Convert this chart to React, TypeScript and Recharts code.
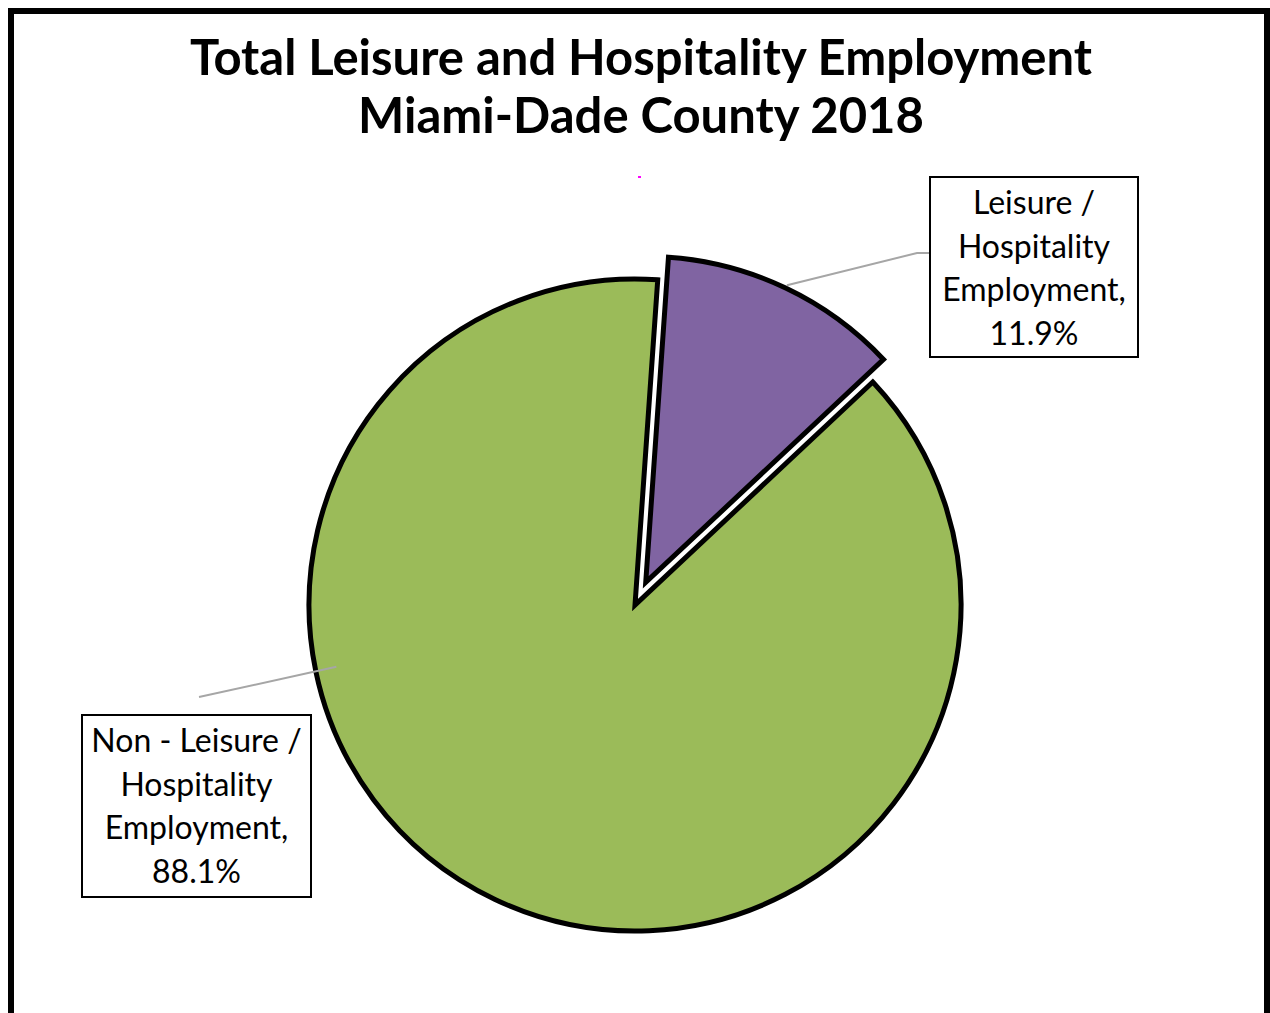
import { PieChart, Pie, Cell } from 'recharts';

const categories = ['Leisure / Hospitality Employment', 'Non - Leisure / Hospitality Employment'];
const shares = [11.9, 88.1];
const labelLines = [
  ['Leisure /', 'Hospitality', 'Employment,'],
  ['Non - Leisure /', 'Hospitality', 'Employment,'],
];
const colors = ['#8064A2', '#9BBB59'];
const titleLines = ['Total Leisure and Hospitality Employment', 'Miami-Dade County 2018'];

const data = categories.map((name, i) => ({ name, value: shares[i] }));

const W = 1270;
const H = 1013;
const CX = 635;
const CY = 605;
const R = 326;
const START = 86;
const EXPLODE = 25;
const FONT = 'Lato, "Open Sans", sans-serif';

const total = shares.reduce((a, b) => a + b, 0);
const midFirst = START - ((shares[0] / total) * 360) / 2;
const rad = Math.PI / 180;
const offX = EXPLODE * Math.cos(midFirst * rad);
const offY = -EXPLODE * Math.sin(midFirst * rad);

// label boxes, positions relative to the pie centre
const labelLayout = [
  { angle: null as number | null, rOff: 3, path: [[282, -352], [295, -352]], box: [295, -428, 208, 180] },
  { angle: 191.7, rOff: -21, path: [[-436, 92]], box: [-553, 110, 229, 182] },
];

function makeLabel(only: number) {
  return (props: any) => {
    const { index, cx, cy, midAngle, outerRadius, value } = props;
    if (index !== only) return null;
    const lay = labelLayout[index];
    const a = (lay.angle ?? midAngle) * rad;
    const r = outerRadius + lay.rOff;
    const ax = cx + r * Math.cos(a);
    const ay = cy - r * Math.sin(a);
    const pts = [[ax, ay], ...lay.path.map(([dx, dy]) => [CX + dx, CY + dy])];
    const [bx, by, bw, bh] = lay.box;
    const x0 = CX + bx;
    const y0 = CY + by;
    const lines = [...labelLines[index], `${value.toFixed(1)}%`];
    return (
      <g>
        <polyline
          points={pts.map((p) => p.join(',')).join(' ')}
          fill="none"
          stroke="#A6A6A6"
          strokeWidth={2}
        />
        <rect x={x0} y={y0} width={bw} height={bh} fill="#fff" stroke="#000" strokeWidth={2} />
        {lines.map((t, i) => (
          <text
            key={i}
            x={x0 + bw / 2}
            y={y0 + 37 + i * 43.5}
            textAnchor="middle"
            fontFamily={FONT}
            fontSize={32}
            fill="#000"
          >
            {t}
          </text>
        ))}
      </g>
    );
  };
}

export default function App() {
  return (
    <div style={{ position: 'absolute', left: 0, top: 0, width: W, height: H, overflow: 'hidden', background: '#fff' }}>
      <div
        style={{
          position: 'absolute',
          left: 8,
          top: 8,
          width: 1262,
          height: 1100,
          border: '6px solid #000',
          boxSizing: 'border-box',
        }}
      />
      <svg style={{ position: 'absolute', left: 0, top: 0 }} width={W} height={190}>
        {titleLines.map((t, i) => (
          <text
            key={i}
            x={641}
            y={75 + i * 58}
            textAnchor="middle"
            fontFamily={FONT}
            fontWeight="bold"
            fontSize={49}
            fill="#000"
          >
            {t}
          </text>
        ))}
        <rect x={638} y={176} width={3} height={2} fill="#FF00FF" />
      </svg>
      <div style={{ position: 'absolute', left: 0, top: 0 }}>
        <PieChart width={W} height={H} margin={{ top: 0, right: 0, bottom: 0, left: 0 }}>
          <Pie
            data={data}
            dataKey="value"
            nameKey="name"
            cx={CX}
            cy={CY}
            outerRadius={R}
            startAngle={START}
            endAngle={START - 360}
            labelLine={false}
            label={makeLabel(1)}
            isAnimationActive={false}
          >
            {data.map((d, i) => (
              <Cell
                key={d.name}
                fill={i === 1 ? colors[i] : 'none'}
                stroke={i === 1 ? '#000' : 'none'}
                strokeWidth={5}
              />
            ))}
          </Pie>
          <Pie
            data={data}
            dataKey="value"
            nameKey="name"
            cx={CX + offX}
            cy={CY + offY}
            outerRadius={R}
            startAngle={START}
            endAngle={START - 360}
            labelLine={false}
            label={makeLabel(0)}
            isAnimationActive={false}
          >
            {data.map((d, i) => (
              <Cell
                key={d.name}
                fill={i === 0 ? colors[i] : 'none'}
                stroke={i === 0 ? '#000' : 'none'}
                strokeWidth={5}
              />
            ))}
          </Pie>
        </PieChart>
      </div>
    </div>
  );
}
